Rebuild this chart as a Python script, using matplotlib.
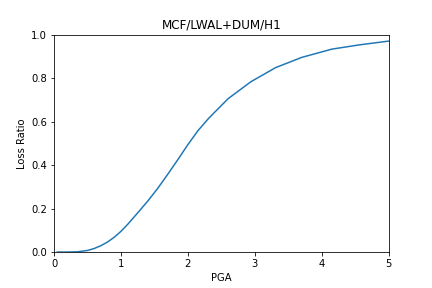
import matplotlib
matplotlib.use("Agg")
import matplotlib.pyplot as plt

pga = [0.05, 0.2, 0.35, 0.5, 0.6, 0.7, 0.8, 0.9, 1.0, 1.1, 1.25, 1.4, 1.55, 1.7,
       1.85, 2.0, 2.15, 2.31, 2.6, 2.94, 3.31, 3.70, 4.15, 4.57, 5.0]
loss_ratio = [0.0, 0.0, 0.001, 0.007, 0.016, 0.029, 0.046, 0.068, 0.095, 0.127, 0.18,
              0.234, 0.293, 0.358, 0.425, 0.494, 0.558, 0.615, 0.705, 0.783, 0.848,
              0.895, 0.933, 0.953, 0.97]

fig = plt.figure(figsize=(6, 4), dpi=72)
ax = fig.add_subplot(111)
fig.subplots_adjust(left=0.125, right=0.9, bottom=0.125, top=0.88)
ax.plot(pga, loss_ratio, color="#1f77b4")
ax.set_xlim(0, 5)
ax.set_ylim(0, 1.0)
ax.set_xlabel("PGA")
ax.set_ylabel("Loss Ratio")
ax.set_title("MCF/LWAL+DUM/H1")
fig.savefig("out.png", dpi=72)
